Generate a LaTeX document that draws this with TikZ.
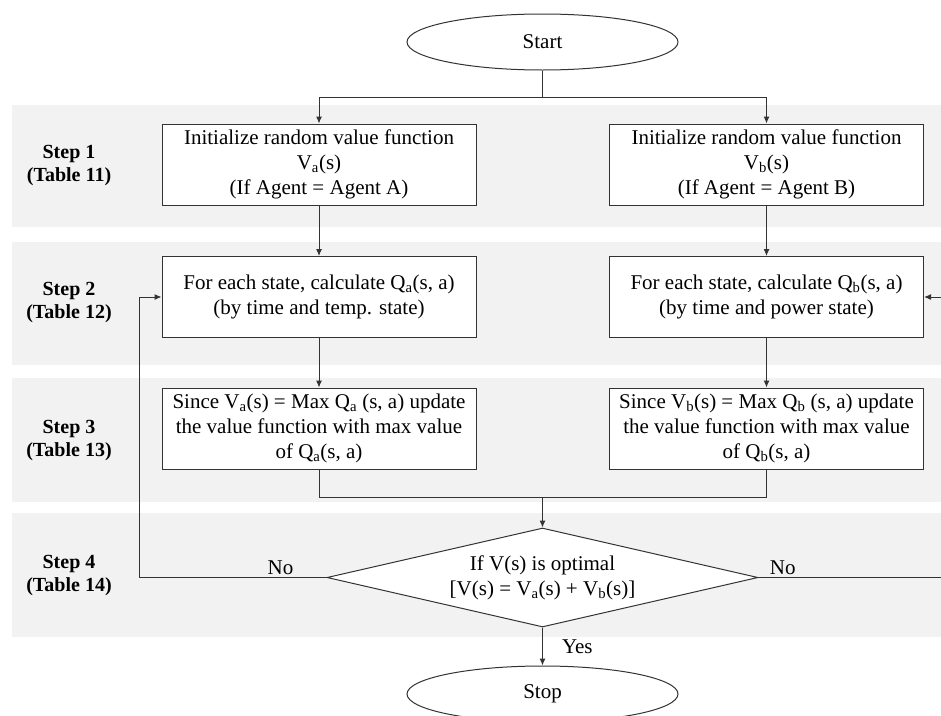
\documentclass[tikz,border=0pt]{standalone}
\usepackage{fontspec}
\setmainfont{Liberation Serif}
\usetikzlibrary{shapes.geometric,arrows.meta}
\definecolor{bandgray}{HTML}{F2F2F2}
\definecolor{linegray}{HTML}{333333}
\tikzset{
  flowline/.style={draw=linegray, line width=1pt},
  arrowline/.style={flowline, -{Latex[length=7pt,width=6pt]}},
  flowtext/.style={font=\fontsize{21}{25}\selectfont},
  procbox/.style={flowtext, draw=linegray, line width=1pt, fill=white, minimum width=314pt, minimum height=81pt, align=center, inner sep=0pt},
  terminal/.style={flowtext, ellipse, draw=linegray, line width=1pt, fill=white, minimum width=271pt, minimum height=56pt, inner sep=0pt},
  decision/.style={flowtext, diamond, aspect=4.35, draw=linegray, line width=1pt, fill=white, minimum width=431pt, minimum height=99pt, inner sep=0pt, align=center},
  band/.style={fill=bandgray, draw=none},
  steplabel/.style={align=center, font=\bfseries\fontsize{20}{23}\selectfont}
}

\begin{document}
\begin{tikzpicture}[x=1pt, y=-1pt]
        \clip (0,0) rectangle (941,715);
        \fill[white] (0,0) rectangle (941,715);
        \fill[band] (12,105) rectangle (941,227);
        \fill[band] (12,242) rectangle (941,365);
        \fill[band] (12,378) rectangle (941,502);
        \fill[band] (12,513) rectangle (941,637);
        \node[steplabel] (step1) at (69,166) {Step 1\\(Table 11)};
        \node[steplabel] (step2) at (69,303) {Step 2\\(Table 12)};
        \node[steplabel] (step3) at (69,440) {Step 3\\(Table 13)};
        \node[steplabel] (step4) at (69,575) {Step 4\\(Table 14)};
        \node[terminal] (start) at (542.5,42) {Start};
        \node[procbox] (va) at (319,164.5) {Initialize random value function\\V\textsubscript{a}(s)\\(If Agent = Agent A)};
        \node[procbox] (vb) at (766.5,164.5) {Initialize random value function\\V\textsubscript{b}(s)\\(If Agent = Agent B)};
        \node[procbox] (qa) at (319,297) {For each state, calculate Q\textsubscript{a}(s, a)\\(by time and temp. state)};
        \node[procbox] (qb) at (766.5,297) {For each state, calculate Q\textsubscript{b}(s, a)\\(by time and power state)};
        \node[procbox] (ua) at (319,428.5) {Since V\textsubscript{a}(s) = Max Q\textsubscript{a} (s, a) update\\the value function with max value\\of Q\textsubscript{a}(s, a)};
        \node[procbox] (ub) at (766.5,428.5) {Since V\textsubscript{b}(s) = Max Q\textsubscript{b} (s, a) update\\the value function with max value\\of Q\textsubscript{b}(s, a)};
        \node[decision] (optimal) at (542.5,577.5) {If V(s) is optimal\\{}[V(s) = V\textsubscript{a}(s) + V\textsubscript{b}(s)]};
        \node[terminal] (stop) at (542.5,694) {Stop};
        \coordinate (split) at (542.5,97);
        \coordinate (merge) at (542.5,497);
        \coordinate (loopL) at (139,577.5);
        \coordinate (loopR) at (960,577.5);
        \draw[flowline] (start) -- (split);
        \draw[arrowline] (split) -| (va.north);
        \draw[arrowline] (split) -| (vb.north);
        \draw[arrowline] (va) -- (qa);
        \draw[arrowline] (vb) -- (qb);
        \draw[arrowline] (qa) -- (ua);
        \draw[arrowline] (qb) -- (ub);
        \draw[flowline] (ua.south) |- (merge);
        \draw[flowline] (ub.south) |- (merge);
        \draw[arrowline] (merge) -- (optimal.north);
        \draw[arrowline] (optimal.west) -- node[flowtext, above, pos=0.245, inner sep=2pt] {No} (loopL) |- (qa.west);
        \draw[arrowline] (optimal.east) -- node[flowtext, above, pos=0.12, inner sep=2pt] {No} (loopR) |- (qb.east);
        \draw[arrowline] (optimal.south) -- node[flowtext, anchor=west, inner sep=0pt, xshift=19pt] {Yes} (stop.north);
    \end{tikzpicture}
\end{document}
